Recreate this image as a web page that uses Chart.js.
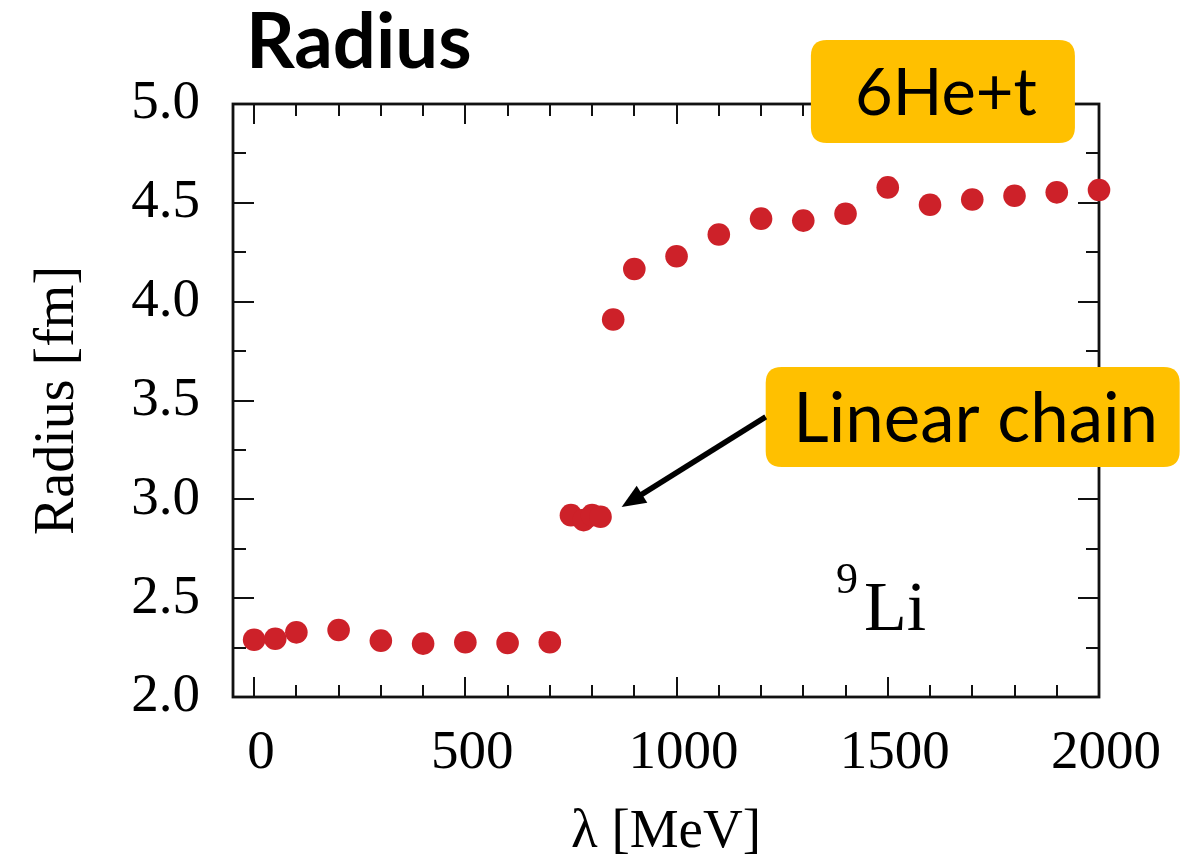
<!DOCTYPE html>
<html>
<head>
<meta charset="utf-8">
<script src="https://cdn.jsdelivr.net/npm/chart.js@4.4.1/dist/chart.umd.min.js"></script>
<style>
  html, body { margin: 0; padding: 0; background: #ffffff; }
  #wrap { width: 1191px; height: 862px; position: relative; }
  canvas { display: block; }
</style>
</head>
<body>
<div id="wrap"><canvas id="c" width="1191" height="862"></canvas></div>
<script>
// ---------------- data ----------------
const lambdaMeV = [0, 50, 100, 200, 300, 400, 500, 600, 700,
                   750, 780, 800, 820,
                   850, 900, 1000, 1100, 1200, 1300, 1400, 1500, 1600, 1700, 1800, 1900, 2000];
const radiusFm  = [2.29, 2.295, 2.327, 2.339, 2.285, 2.27, 2.277, 2.273, 2.277,
                   2.92, 2.895, 2.92, 2.912,
                   3.91, 4.165, 4.23, 4.34, 4.42, 4.41, 4.445, 4.578, 4.49, 4.517, 4.536, 4.553, 4.565];

const xTickValues = [0, 500, 1000, 1500, 2000];
const xTickLabels = ['0', '500', '1000', '1500', '2000'];
const yTickValues = [2.0, 2.5, 3.0, 3.5, 4.0, 4.5, 5.0];
const yTickLabels = ['2.0', '2.5', '3.0', '3.5', '4.0', '4.5', '5.0'];

const chartTitle = 'Radius';
const xAxisTitle = 'λ [MeV]';
const yAxisTitle = 'Radius [fm]';
const nucleusMass = '9';
const nucleusName = 'Li';
const labelHe = '6He+t';
const labelChain = 'Linear chain';

// annotation anchors (data coordinates)
const heBox    = { x0: 1318, x1: 1943, y0: 5.324, y1: 4.803 };
const chainBox = { x0: 1211, x1: 2191, y0: 3.67, y1: 3.163 };
const arrowFrom = { x: 1211, y: 3.417 };
const arrowTo   = { x: 870,  y: 2.961 };
const nucleusAt = { x: 1446, y: 2.339 };

// ---------------- styles ----------------
const SERIF = '"Liberation Serif", "Times New Roman", serif';
const SANS = 'Lato, "Open Sans", sans-serif';
const pointColor = '#cd2129';
const axisColor = '#111111';
const boxColor = '#ffc000';

function roundRect(ctx, x, y, w, h, r) {
  ctx.beginPath();
  ctx.moveTo(x + r, y);
  ctx.lineTo(x + w - r, y);
  ctx.quadraticCurveTo(x + w, y, x + w, y + r);
  ctx.lineTo(x + w, y + h - r);
  ctx.quadraticCurveTo(x + w, y + h, x + w - r, y + h);
  ctx.lineTo(x + r, y + h);
  ctx.quadraticCurveTo(x, y + h, x, y + h - r);
  ctx.lineTo(x, y + r);
  ctx.quadraticCurveTo(x, y, x + r, y);
  ctx.closePath();
}

const frameTicksPlugin = {
  id: 'frameTicks',
  beforeDatasetsDraw(chart) {
    const { ctx, chartArea: a, scales: { x, y } } = chart;
    ctx.save();
    ctx.strokeStyle = axisColor;
    // ticks (inward, all four sides)
    ctx.lineWidth = 2;
    ctx.beginPath();
    for (let v = 0; v <= 2000; v += 100) {
      const px = Math.round(x.getPixelForValue(v));
      const len = (v % 500 === 0) ? 20 : 12;
      ctx.moveTo(px, a.bottom); ctx.lineTo(px, a.bottom - len);
      ctx.moveTo(px, a.top); ctx.lineTo(px, a.top + len);
    }
    for (let k = 0; k <= 12; k++) {
      const v = 2 + k * 0.25;
      const py = Math.round(y.getPixelForValue(v));
      const len = (k % 2 === 0) ? 21 : 13;
      ctx.moveTo(a.left, py); ctx.lineTo(a.left + len, py);
      ctx.moveTo(a.right, py); ctx.lineTo(a.right - len, py);
    }
    ctx.stroke();
    // frame
    ctx.lineWidth = 2.8;
    ctx.strokeRect(a.left, a.top, a.right - a.left, a.bottom - a.top);
    ctx.restore();
  }
};

const annotationPlugin = {
  id: 'annots',
  afterDraw(chart) {
    const { ctx, scales: { x, y } } = chart;
    ctx.save();
    // Title
    ctx.fillStyle = '#000';
    ctx.font = 'bold 76px ' + SANS;
    ctx.textAlign = 'left';
    ctx.textBaseline = 'alphabetic';
    ctx.fillText(chartTitle, 246, 68);

    // boxes
    const drawBox = (b, text, size) => {
      const x0 = x.getPixelForValue(b.x0), x1 = x.getPixelForValue(b.x1);
      const y0 = y.getPixelForValue(b.y0), y1 = y.getPixelForValue(b.y1);
      ctx.fillStyle = boxColor;
      roundRect(ctx, x0, y0, x1 - x0, y1 - y0, 16);
      ctx.fill();
      ctx.fillStyle = '#000';
      ctx.font = size + 'px ' + SANS;
      ctx.textAlign = 'center';
      ctx.textBaseline = 'alphabetic';
      const cap = size * 0.72;
      ctx.fillText(text, (x0 + x1) / 2 + 3, (y0 + y1) / 2 + cap / 2);
    };
    drawBox(heBox, labelHe, 65);
    drawBox(chainBox, labelChain, 69);

    // arrow
    const ax0 = x.getPixelForValue(arrowFrom.x), ay0 = y.getPixelForValue(arrowFrom.y);
    const ax1 = x.getPixelForValue(arrowTo.x), ay1 = y.getPixelForValue(arrowTo.y);
    const ang = Math.atan2(ay1 - ay0, ax1 - ax0);
    const headLen = 24, headHalf = 10;
    const bx = ax1 - headLen * Math.cos(ang), by = ay1 - headLen * Math.sin(ang);
    ctx.strokeStyle = '#000';
    ctx.lineWidth = 5.5;
    ctx.beginPath();
    ctx.moveTo(ax0, ay0);
    ctx.lineTo(bx + 4 * Math.cos(ang), by + 4 * Math.sin(ang));
    ctx.stroke();
    ctx.fillStyle = '#000';
    ctx.beginPath();
    ctx.moveTo(ax1, ay1);
    ctx.lineTo(bx + headHalf * Math.sin(ang), by - headHalf * Math.cos(ang));
    ctx.lineTo(bx - headHalf * Math.sin(ang), by + headHalf * Math.cos(ang));
    ctx.closePath();
    ctx.fill();

    // nucleus label  9Li
    const nx = x.getPixelForValue(nucleusAt.x), ny = y.getPixelForValue(nucleusAt.y);
    ctx.textAlign = 'left';
    ctx.textBaseline = 'alphabetic';
    ctx.font = '70px ' + SERIF;
    ctx.fillText(nucleusName, nx - 1, ny);
    ctx.font = '44px ' + SERIF;
    ctx.fillText(nucleusMass, nx - 29, ny - 37);
    ctx.restore();
  }
};

const ctx = document.getElementById('c').getContext('2d');
new Chart(ctx, {
  type: 'scatter',
  data: {
    datasets: [{
      data: lambdaMeV.map((v, i) => ({ x: v, y: radiusFm[i] })),
      backgroundColor: pointColor,
      borderColor: pointColor,
      borderWidth: 0,
      pointRadius: 11.3,
      pointHoverRadius: 11.3,
      clip: false
    }]
  },
  options: {
    responsive: false,
    devicePixelRatio: 1,
    animation: false,
    events: [],
    layout: { padding: { top: 104, right: 92, left: 0, bottom: 0 } },
    plugins: { legend: { display: false }, tooltip: { enabled: false }, title: { display: false } },
    scales: {
      x: {
        type: 'linear',
        min: -50, max: 2000,
        afterFit(s) { s.height = 165; },
        afterBuildTicks(s) { s.ticks = xTickValues.map(v => ({ value: v })); },
        grid: { display: false, drawTicks: false },
        border: { display: false },
        ticks: {
          callback: (v) => xTickLabels[xTickValues.indexOf(v)],
          font: { family: SERIF, size: 55 },
          color: '#000',
          padding: 24,
          labelOffset: 7,
          maxRotation: 0,
          autoSkip: false
        },
        title: {
          display: true,
          text: xAxisTitle,
          font: { family: SERIF, size: 55, lineHeight: 1.0 },
          color: '#000',
          padding: { bottom: 2, top: 0 }
        }
      },
      y: {
        type: 'linear',
        min: 2.0, max: 5.0,
        afterFit(s) { s.width = 233; },
        afterBuildTicks(s) { s.ticks = yTickValues.map(v => ({ value: v })); },
        grid: { display: false, drawTicks: false },
        border: { display: false },
        ticks: {
          callback: (v) => yTickLabels[yTickValues.indexOf(v)],
          font: { family: SERIF, size: 55 },
          color: '#000',
          padding: 33,
          autoSkip: false
        },
        title: {
          display: true,
          text: yAxisTitle,
          font: { family: SERIF, size: 56, lineHeight: 1.0 },
          color: '#000',
          padding: { top: 30, bottom: 0 }
        }
      }
    }
  },
  plugins: [frameTicksPlugin, annotationPlugin]
});
</script>
</body>
</html>
